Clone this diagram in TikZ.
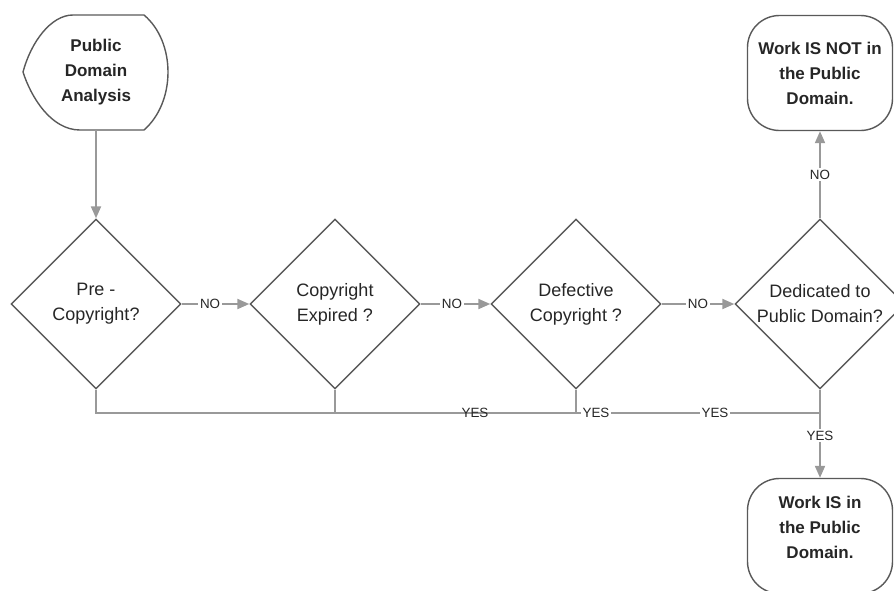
\documentclass[tikz,border=0pt]{standalone}
\usepackage{fontspec}
\setmainfont{Liberation Sans}
\usetikzlibrary{shapes.geometric,arrows.meta}

\begin{document}
\begin{tikzpicture}[x=0.5pt, y=-0.5pt,
  every node/.style={text=black!85, align=center, font=\fontsize{9}{12.5}\selectfont},
  outline/.style={draw=black!65, line width=0.7pt},
  question/.style={diamond, aspect=1, outline, inner sep=0pt, minimum width=85pt, minimum height=85pt},
  termtext/.style={font=\bfseries\fontsize{8.5}{12.5}\selectfont},
  terminal/.style={termtext, rectangle, rounded corners=16pt, outline, minimum width=72.5pt, minimum height=57.5pt},
  conn/.style={draw=black!40, line width=1pt},
  arr/.style={conn, -{Triangle[length=6pt,width=5pt]}},
  lbl/.style={font=\fontsize{6.7}{8}\selectfont, inner sep=1pt, fill=white}]
  \useasboundingbox (0,0) rectangle (894,590);
  \clip (0,0) rectangle (894,590);
  % start and end points
  \node[termtext, minimum width=72.5pt, minimum height=57.5pt] (start) at (96,72) {Public\\Domain\\Analysis};
  \draw[outline, shift={(start.center)}] (-23,-57) -- (48,-57)
    .. controls (80,-30) and (80,30) .. (48,58) -- (-16,58)
    .. controls (-45,58) and (-65,25) .. (-73,0)
    .. controls (-65,-30) and (-45,-57) .. cycle;
  \node[terminal] (notpd) at (820,73) {Work IS NOT in\\the Public\\Domain.};
  \node[terminal] (ispd) at (820,536) {};
  \node[termtext] (ispdtext) at (820,527) {Work IS in\\the Public\\Domain.};
  % questions
  \node[question] (q1) at (96,304) {Pre -\\Copyright?};
  \node[question] (q2) at (335,304) {Copyright\\Expired ?};
  \node[question] (q3) at (576,304) {Defective\\Copyright ?};
  \node[question] (q4) at (820,304) {Dedicated to\\Public Domain?};
  \coordinate (bus) at (820,413);
  % connectors
  \draw[arr] (start.south) -- (q1.north);
  \draw[arr] (q1.east) -- (q2.west) node[lbl, pos=0.42] (no1) {NO};
  \draw[arr] (q2.east) -- (q3.west) node[lbl, pos=0.45] (no2) {NO};
  \draw[arr] (q3.east) -- (q4.west) node[lbl, pos=0.5] (no3) {NO};
  \draw[arr] (q4.north) -- (notpd.south) node[lbl, midway] (no4) {NO};
  \draw[conn] (q1.south) |- (bus);
  \draw[conn] (q2.south) -- (q2.south |- bus);
  \draw[conn] (q3.south) -- (q3.south |- bus);
  \draw[conn] (q4.south) -- (bus);
  \node[lbl, fill=none] (yes1) at (475,413) {YES};
  \node[lbl] (yes2) at (596,413) {YES};
  \node[lbl] (yes3) at (715,413) {YES};
  \draw[arr] (bus) -- (ispd.north) node[lbl, pos=0.35] (yes4) {YES};
\end{tikzpicture}
\end{document}
